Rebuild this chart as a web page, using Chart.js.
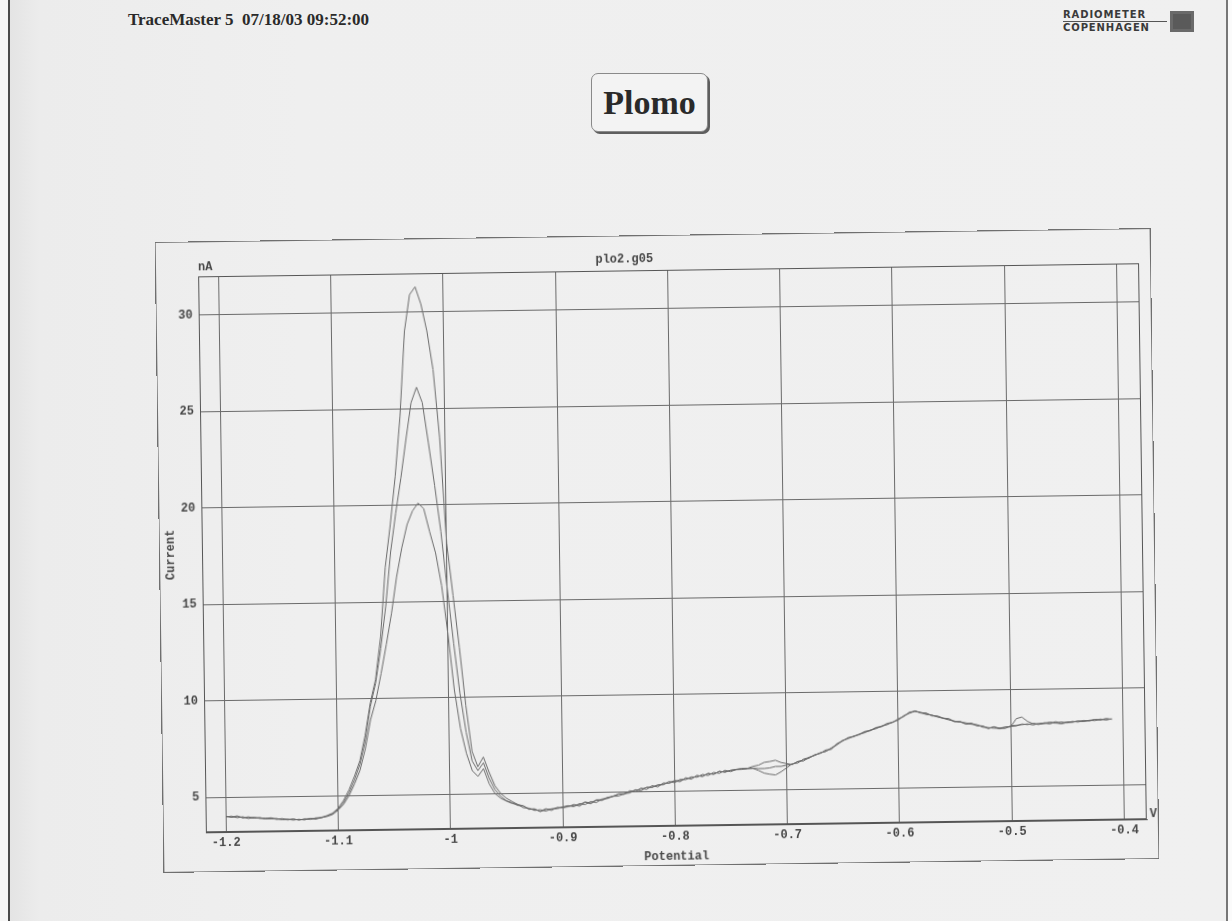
<!DOCTYPE html>
<html>
<head>
<meta charset="utf-8">
<script src="https://cdn.jsdelivr.net/npm/chart.js@4.4.1/dist/chart.umd.min.js"></script>
<style>
  body { margin: 0; width: 1232px; height: 921px; position: relative; overflow: hidden;
         background: linear-gradient(90deg, #f6f6f6 0, #f6f6f6 8px, #4a4a4a 8px, #4a4a4a 10px, #e4e4e4 10px, #ececec 40px, #efefef 300px, #f0f0f0 1226px, #777 1226px, #777 1228px, #fbfbfb 1228px); }
  #header { position: absolute; left: 128px; top: 10px; font: bold 17px "Liberation Serif", serif; color: #2a2a2a; white-space: pre; }
  #logo { position: absolute; left: 1063px; top: 10px; height: 24px; }
  #logo .txt { position: absolute; left: 0; top: 0; width: 104px; font: bold 10px "DejaVu Sans", sans-serif; color: #3a3a3a; letter-spacing: 0.9px; line-height: 10px; }
  #logo .txt .r1 { display: block; border-bottom: 1px solid #555; padding-bottom: 1px; }
  #logo .txt .r2 { display: block; padding-top: 1px; }
  #logo .box { position: absolute; left: 107px; top: 1px; width: 24px; height: 21px; background: #5a5a5a; box-shadow: inset 0 0 0 3px #6a6a6a; }
  #plomo { position: absolute; left: 591px; top: 73px; width: 115px; height: 57px; border: 1px solid #8a8a8a; border-radius: 7px;
           box-shadow: 2px 2px 0 #5e5e5e; background: #f3f3f3; font: bold 34px "Liberation Serif", serif; color: #2a2a2a;
           text-align: center; line-height: 57px; }
  #frame { position: absolute; left: 160px; top: 236px; width: 994px; height: 629px; outline: 1px solid #6f6f6f;
           transform: rotate(-0.8deg); transform-origin: 50% 50%; }
</style>
</head>
<body>
<div id="header">TraceMaster 5  07/18/03 09:52:00</div>
<div id="logo"><div class="txt"><span class="r1">RADIOMETER</span><span class="r2">COPENHAGEN</span></div><div class="box"></div></div>
<div id="plomo">Plomo</div>
<div id="frame"><canvas id="c" width="994" height="629"></canvas></div>
<script>
const plotTitle = "plo2.g05";
const xTitle = "Potential";
const yTitle = "Current";
const xUnit = "V";
const yUnit = "nA";

const xTicks = [-1.2, -1.1, -1.0, -0.9, -0.8, -0.7, -0.6, -0.5, -0.4];
const xTickLabels = ["-1.2", "-1.1", "-1", "-0.9", "-0.8", "-0.7", "-0.6", "-0.5", "-0.4"];
const yTicks = [5, 10, 15, 20, 25, 30];

// potential (V) shared by the three scans
const potentials = [
  -1.200, -1.195, -1.190, -1.185, -1.180, -1.175, -1.170, -1.165, -1.160, -1.155,
  -1.150, -1.145, -1.140, -1.135, -1.130, -1.125, -1.120, -1.115, -1.110, -1.105,
  -1.100, -1.095, -1.090, -1.085, -1.080, -1.075, -1.070, -1.065, -1.060, -1.055,
  -1.050, -1.045, -1.040, -1.035, -1.030, -1.025, -1.020, -1.015, -1.010, -1.005,
  -1.000, -0.995, -0.990, -0.985, -0.980, -0.975, -0.970, -0.965, -0.960, -0.955,
  -0.950, -0.945, -0.940, -0.935, -0.930, -0.925, -0.920, -0.915, -0.910, -0.905,
  -0.900, -0.895, -0.890, -0.885, -0.880, -0.875, -0.870, -0.865, -0.860, -0.855,
  -0.850, -0.845, -0.840, -0.835, -0.830, -0.825, -0.820, -0.815, -0.810, -0.805,
  -0.800, -0.795, -0.790, -0.785, -0.780, -0.775, -0.770, -0.765, -0.760, -0.755,
  -0.750, -0.745, -0.740, -0.735, -0.730, -0.725, -0.720, -0.715, -0.710, -0.705,
  -0.700, -0.695, -0.690, -0.685, -0.680, -0.675, -0.670, -0.665, -0.660, -0.655,
  -0.650, -0.645, -0.640, -0.635, -0.630, -0.625, -0.620, -0.615, -0.610, -0.605,
  -0.600, -0.595, -0.590, -0.585, -0.580, -0.575, -0.570, -0.565, -0.560, -0.555,
  -0.550, -0.545, -0.540, -0.535, -0.530, -0.525, -0.520, -0.515, -0.510, -0.505,
  -0.500, -0.495, -0.490, -0.485, -0.480, -0.475, -0.470, -0.465, -0.460, -0.455,
  -0.450, -0.445, -0.440, -0.435, -0.430, -0.425, -0.420, -0.415, -0.410
];

// current (nA), highest peak
const scanA = [
  4.02, 3.96, 4.03, 3.92, 3.97, 3.90, 3.93, 3.86, 3.91, 3.82,
  3.86, 3.78, 3.84, 3.76, 3.83, 3.79, 3.87, 3.86, 3.98, 4.10,
  4.35, 4.75, 5.30, 6.00, 6.80, 8.10, 9.80, 11.0, 13.2, 16.8,
  19.0, 21.5, 24.6, 29.0, 30.9, 31.3, 30.4, 29.0, 27.0, 23.5,
  18.0, 15.3, 12.6, 9.60, 7.20, 6.40, 6.90, 6.10, 5.40, 5.00,
  4.75, 4.58, 4.42, 4.34, 4.18, 4.16, 4.04, 4.18, 4.08, 4.24,
  4.22, 4.26, 4.38, 4.28, 4.48, 4.40, 4.58, 4.56, 4.70, 4.78,
  4.88, 4.86, 5.05, 4.98, 5.18, 5.10, 5.30, 5.22, 5.43, 5.40,
  5.52, 5.48, 5.68, 5.60, 5.80, 5.72, 5.90, 5.83, 6.00, 5.93,
  6.04, 6.08, 6.12, 6.12, 6.22, 6.28, 6.42, 6.46, 6.52, 6.40,
  6.34, 6.28, 6.45, 6.46, 6.65, 6.75, 6.86, 6.95, 7.12, 7.30,
  7.50, 7.58, 7.72, 7.78, 7.92, 7.98, 8.12, 8.18, 8.32, 8.40,
  8.58, 8.70, 8.92, 8.95, 8.88, 8.78, 8.75, 8.64, 8.58, 8.48,
  8.42, 8.36, 8.32, 8.24, 8.22, 8.08, 8.06, 8.02, 8.02, 8.00,
  8.14, 8.16, 8.18, 8.22, 8.16, 8.24, 8.25, 8.20, 8.32, 8.22,
  8.30, 8.28, 8.32, 8.33, 8.36, 8.34, 8.42, 8.36, 8.43
];

// current (nA), middle peak
const scanB = [
  3.98, 4.02, 3.93, 3.98, 3.88, 3.95, 3.88, 3.89, 3.85, 3.84,
  3.82, 3.81, 3.80, 3.79, 3.80, 3.83, 3.84, 3.90, 3.96, 4.07,
  4.30, 4.65, 5.15, 5.80, 6.60, 7.80, 9.60, 10.8, 12.6, 14.8,
  17.6, 19.6, 21.4, 23.4, 25.3, 26.1, 25.3, 23.2, 21.0, 18.6,
  15.6, 12.8, 10.2, 8.20, 6.70, 6.20, 6.60, 5.80, 5.20, 4.85,
  4.62, 4.52, 4.36, 4.34, 4.15, 4.18, 4.03, 4.14, 4.15, 4.17,
  4.26, 4.32, 4.26, 4.42, 4.36, 4.52, 4.46, 4.64, 4.66, 4.77,
  4.78, 4.90, 4.93, 5.10, 5.03, 5.22, 5.20, 5.34, 5.33, 5.50,
  5.43, 5.60, 5.58, 5.72, 5.70, 5.84, 5.78, 5.94, 5.88, 6.04,
  5.96, 6.07, 6.10, 6.12, 6.12, 6.00, 5.86, 5.80, 5.76, 5.92,
  6.12, 6.33, 6.36, 6.56, 6.64, 6.74, 6.88, 6.94, 7.10, 7.27,
  7.48, 7.62, 7.68, 7.82, 7.88, 8.02, 8.08, 8.22, 8.28, 8.42,
  8.52, 8.74, 8.86, 8.96, 8.90, 8.82, 8.74, 8.66, 8.56, 8.52,
  8.38, 8.40, 8.28, 8.30, 8.18, 8.14, 8.03, 8.08, 7.98, 8.06,
  8.08, 8.50, 8.58, 8.35, 8.22, 8.18, 8.27, 8.26, 8.24, 8.30,
  8.24, 8.32, 8.28, 8.36, 8.32, 8.40, 8.38, 8.44, 8.40
];

// current (nA), lowest peak
const scanC = [
  4.00, 3.97, 3.99, 3.93, 3.94, 3.90, 3.90, 3.86, 3.86, 3.87,
  3.80, 3.82, 3.77, 3.81, 3.77, 3.85, 3.80, 3.88, 3.93, 4.03,
  4.25, 4.55, 5.00, 5.60, 6.30, 7.40, 8.90, 9.90, 11.3, 12.8,
  14.4, 16.3, 17.8, 19.0, 19.7, 20.1, 19.8, 18.6, 17.5, 15.8,
  13.3, 10.4, 8.40, 7.10, 6.20, 5.90, 6.30, 5.50, 5.00, 4.75,
  4.60, 4.47, 4.42, 4.24, 4.22, 4.09, 4.13, 4.05, 4.17, 4.20,
  4.21, 4.30, 4.32, 4.36, 4.50, 4.44, 4.60, 4.60, 4.72, 4.76,
  4.90, 4.90, 5.00, 5.06, 5.12, 5.20, 5.22, 5.30, 5.37, 5.43,
  5.54, 5.53, 5.64, 5.68, 5.74, 5.78, 5.87, 5.86, 5.97, 5.96,
  6.02, 6.06, 6.07, 6.10, 6.12, 6.10, 6.10, 6.13, 6.20, 6.20,
  6.26, 6.30, 6.43, 6.52, 6.60, 6.78, 6.84, 7.02, 7.04, 7.34,
  7.46, 7.64, 7.70, 7.80, 7.95, 8.00, 8.15, 8.20, 8.35, 8.40,
  8.54, 8.72, 8.88, 8.98, 8.86, 8.86, 8.70, 8.70, 8.58, 8.55,
  8.40, 8.38, 8.25, 8.28, 8.15, 8.15, 8.00, 8.10, 8.02, 8.08,
  8.10, 8.12, 8.22, 8.18, 8.25, 8.20, 8.22, 8.30, 8.25, 8.20,
  8.26, 8.28, 8.34, 8.30, 8.36, 8.40, 8.37, 8.42, 8.40
];

const MONO = '"Liberation Mono", "Courier New", monospace';
const INK = "#474747";

function toPoints(values) {
  return values.map(function(v, i) { return { x: potentials[i], y: v }; });
}

function traceDataset(values) {
  return {
    data: toPoints(values),
    borderColor: "#6b6b6b",
    backgroundColor: "transparent",
    borderWidth: 1,
    pointRadius: 0,
    tension: 0,
    fill: false
  };
}

// frame of the plot, unit labels and file name
const plotDecor = {
  id: "plotDecor",
  afterDraw(chart) {
    const ctx = chart.ctx;
    const a = chart.chartArea;
    ctx.save();
    ctx.strokeStyle = "#555";
    ctx.lineWidth = 1;
    ctx.strokeRect(a.left + 0.5, a.top + 0.5, a.width - 1, a.height - 1);
    ctx.fillStyle = INK;
    ctx.font = "bold 12px " + MONO;
    ctx.textBaseline = "alphabetic";
    ctx.textAlign = "left";
    ctx.fillText(yUnit, a.left, a.top - 6);
    ctx.fillText(xUnit, a.right + 3, a.bottom - 2);
    ctx.textAlign = "center";
    ctx.fillText(plotTitle, a.left + a.width * 0.453, a.top - 8);
    ctx.restore();
  }
};

new Chart(document.getElementById("c").getContext("2d"), {
  type: "line",
  data: { datasets: [traceDataset(scanA), traceDataset(scanB), traceDataset(scanC)] },
  plugins: [plotDecor],
  options: {
    responsive: false,
    animation: false,
    devicePixelRatio: 1,
    layout: { padding: { top: 34, right: 11, left: 0, bottom: 0 } },
    plugins: { legend: { display: false }, tooltip: { enabled: false } },
    scales: {
      x: {
        type: "linear",
        min: -1.218,
        max: -0.38,
        afterBuildTicks: function(scale) { scale.ticks = xTicks.map(function(v) { return { value: v }; }); },
        afterFit: function(scale) { scale.height = 39; },
        ticks: {
          padding: 4,
          color: INK,
          font: { family: MONO, size: 12, weight: "bold" },
          maxRotation: 0,
          autoSkip: false,
          callback: function(value, index) { return xTickLabels[index]; }
        },
        grid: { color: "#6a6a6a", lineWidth: 1, drawTicks: false },
        border: { display: true, color: "#555" },
        title: { display: true, text: xTitle, color: INK, padding: { top: 0, bottom: 1 },
                 font: { family: MONO, size: 12, weight: "bold" } }
      },
      y: {
        min: 3.2,
        max: 32,
        afterBuildTicks: function(scale) { scale.ticks = yTicks.map(function(v) { return { value: v }; }); },
        afterFit: function(scale) { scale.width = 42; },
        ticks: {
          padding: 6,
          color: INK,
          font: { family: MONO, size: 12, weight: "bold" }
        },
        grid: { color: "#6a6a6a", lineWidth: 1, drawTicks: false },
        border: { display: true, color: "#555" },
        title: { display: true, text: yTitle, color: INK, padding: { top: 4, bottom: 0 },
                 font: { family: MONO, size: 12, weight: "bold" } }
      }
    }
  }
});
</script>
</body>
</html>
